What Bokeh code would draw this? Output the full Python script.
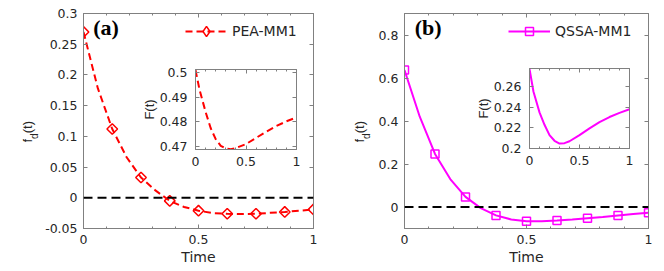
import math
from bokeh.plotting import figure
from bokeh.models import (Range1d, LinearAxis, Label, Legend, LegendItem,
                          FixedTicker, ColumnDataSource, Span)
from bokeh.core.properties import value
from bokeh.layouts import row
from bokeh.embed import file_html
from bokeh.resources import INLINE

# ---------------- data ----------------
t_markers = [0.0, 0.125, 0.25, 0.375, 0.5, 0.625, 0.75, 0.875, 1.0]
fd_pea_markers = [0.270, 0.112, 0.033, -0.005, -0.021, -0.026, -0.026, -0.023, -0.019]
fd_qssa_markers = [0.637, 0.247, 0.047, -0.039, -0.066, -0.063, -0.052, -0.039, -0.027]

t_curve = [0.0, 0.0625, 0.125, 0.1875, 0.25, 0.3125, 0.375, 0.4375, 0.5,
           0.5625, 0.625, 0.6875, 0.75, 0.8125, 0.875, 0.9375, 1.0]
fd_pea_curve = [0.270, 0.178, 0.112, 0.066, 0.033, 0.012, -0.005, -0.015, -0.021,
                -0.025, -0.026, -0.0265, -0.026, -0.0245, -0.023, -0.021, -0.019]
fd_qssa_curve = [0.637, 0.420, 0.247, 0.130, 0.047, -0.005, -0.039, -0.058, -0.066,
                 -0.066, -0.063, -0.058, -0.052, -0.046, -0.039, -0.033, -0.027]

t_inset = [0.0, 0.04, 0.1, 0.15, 0.2, 0.25, 0.3, 0.35, 0.4, 0.5, 0.6, 0.7, 0.8, 0.9, 1.0]
F_pea = [0.5010, 0.4930, 0.4840, 0.4775, 0.4730, 0.4703, 0.4692, 0.4689, 0.4694,
         0.4710, 0.4735, 0.4760, 0.4783, 0.4802, 0.4818]
F_qssa = [0.2770, 0.2550, 0.2350, 0.2230, 0.2130, 0.2075, 0.2048, 0.2052, 0.2070,
          0.2130, 0.2195, 0.2255, 0.2305, 0.2345, 0.2380]

x_ticks = [0, 0.5, 1]
x_tick_labels = ["0", "0.5", "1"]
x_minor = [0.1, 0.2, 0.3, 0.4, 0.6, 0.7, 0.8, 0.9]

ya_ticks = [-0.05, 0, 0.05, 0.1, 0.15, 0.2, 0.25, 0.3]
ya_labels = ["-0.05", "0", "0.05", "0.1", "0.15", "0.2", "0.25", "0.3"]
yb_ticks = [0, 0.2, 0.4, 0.6, 0.8]
yb_labels = ["0", "0.2", "0.4", "0.6", "0.8"]
ia_ticks = [0.47, 0.48, 0.49, 0.5]
ia_labels = ["0.47", "0.48", "0.49", "0.5"]
ib_ticks = [0.2, 0.22, 0.24, 0.26]
ib_labels = ["0.2", "0.22", "0.24", "0.26"]

# y label pieces: f, subscript d, (t)
ylab_text = ["f", "d", "(t)"]

# ---------------- styles ----------------
FONT = "DejaVu Sans"
VFONT = "Liberation Sans"
TICK_FS = "12.5px"
AXL_FS = "14px"
TXT = "#262626"
BOX = "#808080"
RED = "#ff0000"
MAG = "#ff00ff"


def style_axis(ax, ticks, labels, minor=None, show_labels=True, standoff=5):
    ax.ticker = FixedTicker(ticks=ticks, minor_ticks=minor or [])
    ax.major_label_overrides = {t: l for t, l in zip(ticks, labels)}
    ax.major_tick_in = 4
    ax.major_tick_out = 0
    ax.minor_tick_in = 2
    ax.minor_tick_out = 0
    ax.axis_line_color = BOX
    ax.major_tick_line_color = BOX
    ax.minor_tick_line_color = BOX
    ax.major_label_text_font = FONT
    ax.major_label_text_color = TXT
    ax.axis_label_text_font = FONT
    ax.axis_label_text_font_style = "normal"
    ax.axis_label_text_color = TXT
    if show_labels:
        ax.major_label_text_font_size = TICK_FS
        ax.major_label_standoff = standoff
    else:
        ax.major_label_text_font_size = "0px"
        ax.major_label_standoff = 0


def base_fig(xr, yr, fw, fh, bl, br, bt, bb):
    p = figure(x_range=xr, y_range=yr, frame_width=fw, frame_height=fh,
               min_border_left=bl, min_border_right=br, min_border_top=bt,
               min_border_bottom=bb, output_backend="svg", toolbar_location=None)
    p.grid.visible = False
    p.outline_line_color = BOX
    p.outline_line_width = 1
    p.background_fill_color = "white"
    p.border_fill_alpha = 0
    return p


def add_box_axes(p, xt, xminor, yt, yminor=None):
    top = LinearAxis()
    style_axis(top, xt, [""] * len(xt), xminor, show_labels=False)
    p.add_layout(top, "above")
    right = LinearAxis()
    style_axis(right, yt, [""] * len(yt), yminor, show_labels=False)
    p.add_layout(right, "right")


def main_panel(yr, yticks, ylabels, bl, br, fw, fd_curve, fd_markers, color,
               dash, marker, msize, mangle, leg_marker, leg_gh, legend_name,
               panel_tag, leg_x, leg_y):
    p = base_fig(Range1d(0, 1), yr, fw, 215, bl, br, 13, 40)
    style_axis(p.xaxis[0], x_ticks, x_tick_labels, x_minor, standoff=6)
    style_axis(p.yaxis[0], yticks, ylabels, standoff=6)
    p.xaxis[0].axis_label = "Time"
    p.xaxis[0].axis_label_text_font_size = AXL_FS
    p.xaxis[0].axis_label_standoff = 2
    add_box_axes(p, x_ticks, x_minor, yticks)

    p.add_layout(Span(location=0, dimension="width", line_color="black",
                      line_width=2, line_dash="9 5"))

    src_c = ColumnDataSource(dict(t=t_curve, f=fd_curve))
    src_m = ColumnDataSource(dict(t=t_markers, f=fd_markers))
    lr = p.line("t", "f", source=src_c, line_color=color, line_width=2, line_dash=dash)
    sr = p.scatter("t", "f", source=src_m, marker=marker, size=msize, angle=mangle,
                   line_color=color, line_width=1.5, fill_alpha=0)
    if leg_marker != marker or mangle:
        # same markers drawn with the legend's (unrotated) shape; hidden in the plot
        lg = p.scatter("t", "f", source=src_m, marker=leg_marker, size=msize,
                       line_color=color, line_width=1.5, fill_alpha=0, visible=False)
    else:
        lg = sr

    leg = Legend(items=[LegendItem(label=legend_name, renderers=[lr, lg])],
                 location=(leg_x, leg_y), orientation="vertical",
                 border_line_alpha=0, background_fill_alpha=0,
                 glyph_width=42, glyph_height=leg_gh, label_standoff=5,
                 padding=4, margin=0, spacing=0, click_policy="none",
                 label_text_font=FONT, label_text_font_size=AXL_FS,
                 label_text_color=TXT)
    p.add_layout(leg, "center")

    y0, y1 = yr.start, yr.end
    p.add_layout(Label(x=0.042, y=y1 - (14 / 215) * (y1 - y0), text=panel_tag,
                       text_font="Liberation Serif", text_font_style="bold",
                       text_font_size="22px", text_color="black",
                       text_baseline="middle", text_align="left"))
    return p


def inset_panel(yr, yticks, ylabels, fw, F, color, dash, margin):
    p = base_fig(Range1d(0, 1), yr, fw, 80, 58, 6, 5, 28)
    style_axis(p.xaxis[0], x_ticks, x_tick_labels, x_minor, standoff=7)
    style_axis(p.yaxis[0], yticks, ylabels, standoff=8)
    p.yaxis[0].axis_label = "F(t)"
    p.yaxis[0].axis_label_text_font = VFONT
    p.yaxis[0].axis_label_text_font_size = "13px"
    p.yaxis[0].axis_label_standoff = 0
    add_box_axes(p, x_ticks, x_minor, yticks)
    src = ColumnDataSource(dict(t=t_inset, F=F))
    p.line("t", "F", source=src, line_color=color, line_width=2, line_dash=dash)
    p.margin = margin
    return p


def ylabel_fig(margin):
    # small transparent overlay carrying the rotated y-axis label f_d(t)
    q = figure(x_range=Range1d(0, 30), y_range=Range1d(0, 50),
               frame_width=30, frame_height=50, min_border=0,
               x_axis_location=None, y_axis_location=None,
               output_backend="svg", toolbar_location=None)
    q.grid.visible = False
    q.outline_line_color = None
    q.background_fill_alpha = 0
    q.border_fill_alpha = 0
    src = ColumnDataSource(dict(x=[15.0, 22.0, 15.0], y=[13.0, 16.6, 22.2],
                                text=ylab_text, fs=["13px", "10px", "13px"]))
    q.text("x", "y", text="text", source=src, angle=math.pi / 2,
           text_align="left", text_baseline="alphabetic",
           text_font=value(VFONT), text_font_size="fs", text_color=TXT)
    q.margin = margin
    return q


pa = main_panel(Range1d(-0.05, 0.3), ya_ticks, ya_labels, 83, 19, 230,
                fd_pea_curve, fd_pea_markers, RED, "7 4", "square", 7.5,
                math.pi / 4, "diamond", 26, "PEA-MM1", "(a)", 98, 180)
ia = inset_panel(Range1d(0.4688, 0.5012), ia_ticks, ia_labels, 101, F_pea, RED,
                 "7 4", (56, 30, 0, -195))
la = ylabel_fig((92, 290, 0, -320))
pb = main_panel(Range1d(-0.1, 0.9), yb_ticks, yb_labels, 72, 8, 244,
                fd_qssa_curve, fd_qssa_markers, MAG, "solid", "square", 8,
                0, "square", 20, "QSSA-MM1", "(b)", 100, 183)
ib = inset_panel(Range1d(0.2, 0.2775), ib_ticks, ib_labels, 100, F_qssa, MAG,
                 "solid", (55, 21, 0, -185))
lb = ylabel_fig((92, 282, 0, -312))

layout = row(pa, ia, la, pb, ib, lb)
open("out.html", "w").write(file_html(layout, INLINE))
